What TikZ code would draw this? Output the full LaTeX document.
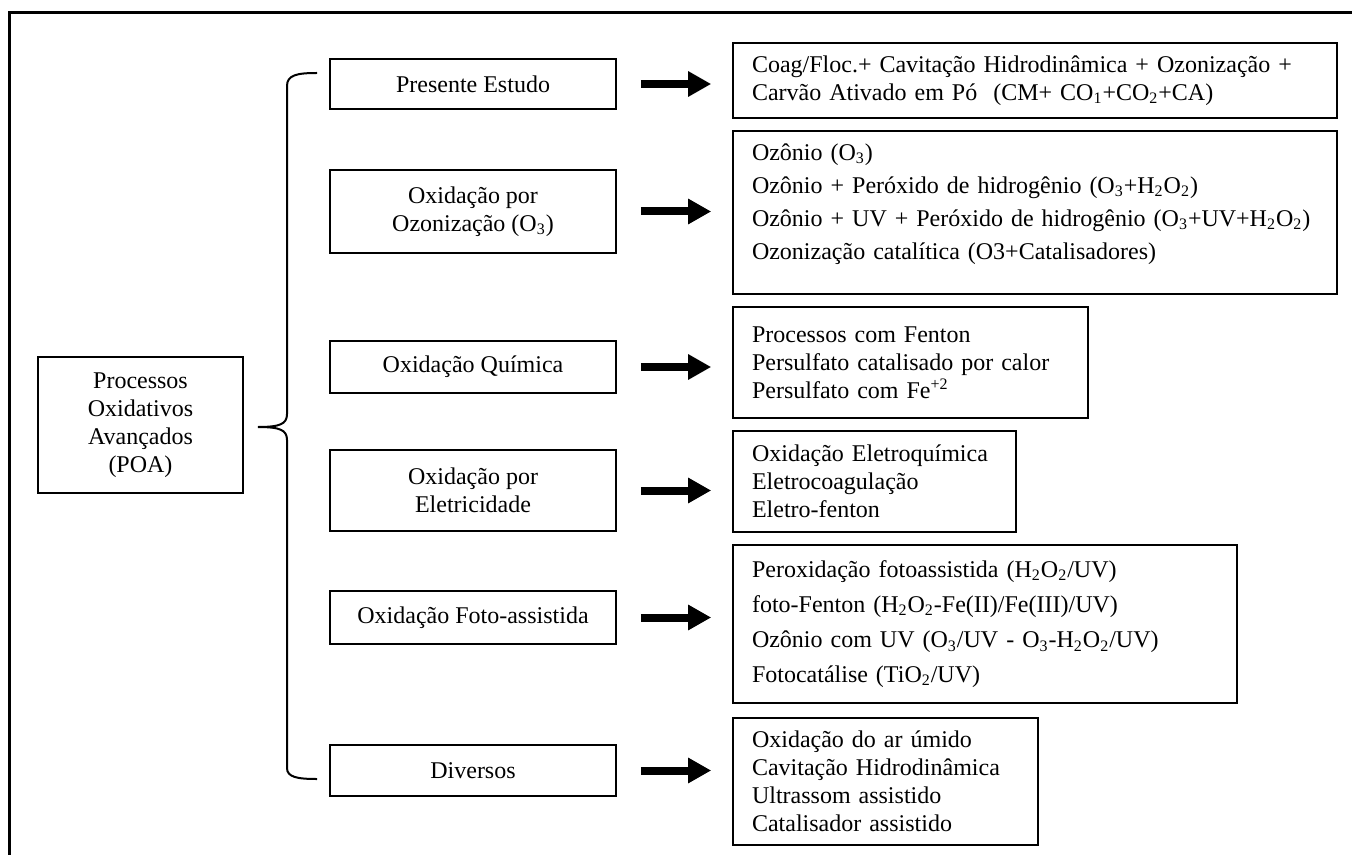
\documentclass[tikz,border=0pt]{standalone}
\usepackage{fontspec}
\setmainfont{Liberation Serif}
\usetikzlibrary{arrows.meta, positioning}

\begin{document}
\begin{tikzpicture}[x=0.5pt, y=-0.5pt, every node/.style={font=\fontsize{12}{14}\selectfont}]
\tikzstyle{cat}=[draw, line width=0.8pt, minimum width=143pt, align=center, inner sep=3pt]
\tikzstyle{lst}=[draw, line width=0.8pt, align=left, inner xsep=9.5pt, inner ysep=3pt]
\tikzstyle{ar}=[-{Triangle[length=11.5pt,width=12pt]}, line width=4pt, shorten <=12pt, shorten >=10.5pt]
\tikzstyle{brace}=[line width=1pt]

\useasboundingbox (0,0) rectangle (1352,855);
\draw[line width=1.5pt] (9.5,900) -- (9.5,13) -- (1400,13);

% root
\node[cat, minimum width=102.5pt, minimum height=68pt](poa) at (140.5,425){Processos\\Oxidativos\\Avançados\\(POA)};

% groups
\node[cat, minimum height=25pt](c1) at (473,84){Presente Estudo};
\node[cat, minimum height=41.5pt](c2) at (473,211.5){Oxidação por\\Ozonização (O\textsubscript{3})};
\node[cat, minimum height=26pt](c3) at (473,367){Oxidação Química};
\node[cat, minimum height=40.5pt](c4) at (473,490.5){Oxidação por\\Eletricidade};
\node[cat, minimum height=26.5pt](c5) at (473,617.5){Oxidação Foto-assistida};
\node[cat, minimum height=25.5pt](c6) at (473,770.5){Diversos};

% processes
\node[lst, text width=283pt, minimum height=37.5pt](r1) at (1035,80.5){Coag/Floc.+ Cavitação Hidrodinâmica + Ozonização +\\Carvão Ativado em Pó~ (CM+ CO\textsubscript{1}+CO\textsubscript{2}+CA)};
\node[lst, text width=283pt, minimum height=81.5pt](r2) at (1035,212.5){Ozônio (O\textsubscript{3})\\[2.5pt]
Ozônio + Peróxido de hidrogênio (O\textsubscript{3}+H\textsubscript{2}O\textsubscript{2})\\[2.5pt]
Ozônio + UV + Peróxido de hidrogênio (O\textsubscript{3}+UV+H\textsubscript{2}O\textsubscript{2})\\[2.5pt]
Ozonização catalítica (O3+Catalisadores)\rule[-11pt]{0pt}{1pt}};
\node[lst, text width=158.5pt, minimum height=55.5pt](r3) at (910.5,362.5){Processos com Fenton\\Persulfato catalisado por calor\\Persulfato com Fe\textsuperscript{+2}};
\node[lst, text width=122.5pt, minimum height=50.5pt](r4) at (874.5,481.5){Oxidação Eletroquímica\\Eletrocoagulação\\Eletro-fenton};
\node[lst, text width=233pt, minimum height=79pt](r5) at (985,624){Peroxidação fotoassistida (H\textsubscript{2}O\textsubscript{2}/UV)\\[3.5pt]
foto-Fenton (H\textsubscript{2}O\textsubscript{2}-Fe(II)/Fe(III)/UV)\\[3.5pt]
Ozônio com UV (O\textsubscript{3}/UV - O\textsubscript{3}-H\textsubscript{2}O\textsubscript{2}/UV)\\[3.5pt]
Fotocatálise (TiO\textsubscript{2}/UV)};
\node[lst, text width=133.5pt, minimum height=63.5pt](r6) at (885.5,781.5){Oxidação do ar úmido\\Cavitação Hidrodinâmica\\Ultrassom assistido\\Catalisador assistido};

% brace
\draw[brace] (317,73) .. controls (297,73) and (287,75) .. (287,86) -- (287,414) .. controls (287,424) and (280,427) .. (258,427) .. controls (280,427) and (287,430) .. (287,440) -- (287,768) .. controls (287,777) and (297,779) .. (317,779);

% arrows
\foreach \i in {1,...,6} \draw[ar](c\i.east) -- (c\i.east -| r\i.west);
\end{tikzpicture}
\end{document}
